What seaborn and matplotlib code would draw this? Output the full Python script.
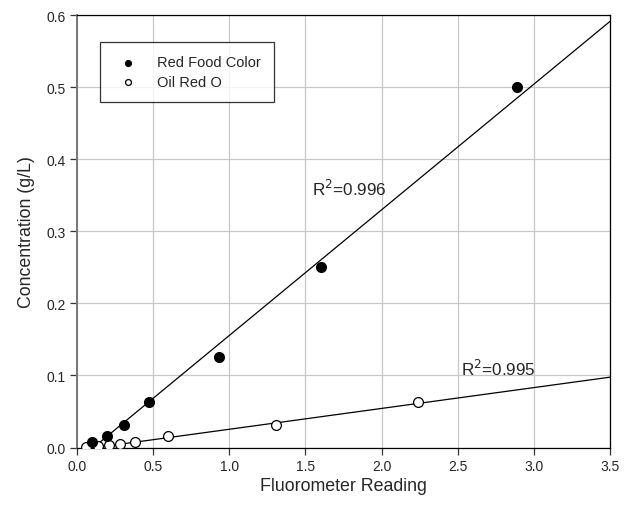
import numpy as np
import pandas as pd
import matplotlib
matplotlib.use("Agg")
import matplotlib.pyplot as plt
import seaborn as sns

# Data
red_x = [0.10, 0.20, 0.31, 0.47, 0.93, 1.60, 2.89]
red_y = [0.0078, 0.0156, 0.03125, 0.0625, 0.125, 0.25, 0.5]
oil_x = [0.06, 0.14, 0.21, 0.28, 0.38, 0.60, 1.31, 2.24]
oil_y = [0.001, 0.002, 0.004, 0.005, 0.008, 0.016, 0.031, 0.0625]
# linear fits as drawn in the reference (slope, intercept)
red_fit = [0.1743, -0.0189]
oil_fit = [0.0289, -0.0036]
series_names = ["Red Food Color", "Oil Red O"]
r2_labels = ["R$^2$=0.996", "R$^2$=0.995"]
x_ticks = [0.0, 0.5, 1.0, 1.5, 2.0, 2.5, 3.0, 3.5]
y_ticks = [0.0, 0.1, 0.2, 0.3, 0.4, 0.5, 0.6]

sns.set_style("ticks")
plt.rcParams['font.family'] = ['Liberation Sans', 'DejaVu Sans']

fig = plt.figure(figsize=(6.34, 5.06), dpi=100)
ax = fig.add_axes([77/634, 1 - 448.5/506, (610-77)/634, (448.5-16)/506])

# regression lines
for xs, (m, b) in [(red_x, red_fit), (oil_x, oil_fit)]:
    lx = np.array([min(xs), 3.5])
    sns.lineplot(x=lx, y=m*lx + b, ax=ax, color="black", lw=0.9, zorder=2)

df_red = pd.DataFrame({"x": red_x, "y": red_y})
df_oil = pd.DataFrame({"x": oil_x, "y": oil_y})
sns.scatterplot(data=df_oil, x="x", y="y", ax=ax, s=50, facecolor="white",
                edgecolor="black", linewidth=0.9, zorder=3, label=series_names[1])
sns.scatterplot(data=df_red, x="x", y="y", ax=ax, s=50, color="black",
                edgecolor="black", linewidth=0.9, zorder=4, label=series_names[0])

ax.set_xlim(0, 3.5)
ax.set_ylim(0, 0.6)
ax.set_xticks(x_ticks)
ax.set_yticks(y_ticks)
ax.set_xticklabels([f"{v:.1f}" for v in x_ticks], fontsize=10)
ax.set_yticklabels([f"{v:.1f}" for v in y_ticks], fontsize=10)
ax.grid(True, color="#c8c8c8", lw=0.9, zorder=0)
ax.set_axisbelow(True)
ax.tick_params(direction="out", length=5, width=0.9, color="#333333", pad=3)
for s in ax.spines.values():
    s.set_color("black")
    s.set_linewidth(0.9)
ax.spines["left"].set_color("#777777")
ax.spines["left"].set_linewidth(1.4)

ax.set_xlabel("Fluorometer Reading", fontsize=12.8, labelpad=3)
ax.set_ylabel("Concentration (g/L)", fontsize=12.8, labelpad=8)

ax.text(1.54, 0.36, r2_labels[0], fontsize=12.3, va="center", ha="left")
ax.text(2.52, 0.111, r2_labels[1], fontsize=12.3, va="center", ha="left")

handles, labels = ax.get_legend_handles_labels()
order = [labels.index(series_names[0]), labels.index(series_names[1])]
leg = ax.legend([handles[i] for i in order], [labels[i] for i in order],
                loc="upper left", bbox_to_anchor=(0.043, 0.937), fontsize=10.5,
                frameon=True, fancybox=False, edgecolor="black",
                markerscale=0.6, handletextpad=1.0, borderpad=0.9,
                labelspacing=0.4, borderaxespad=0)
leg.get_frame().set_linewidth(0.9)

fig.savefig("out.png", dpi=100)
